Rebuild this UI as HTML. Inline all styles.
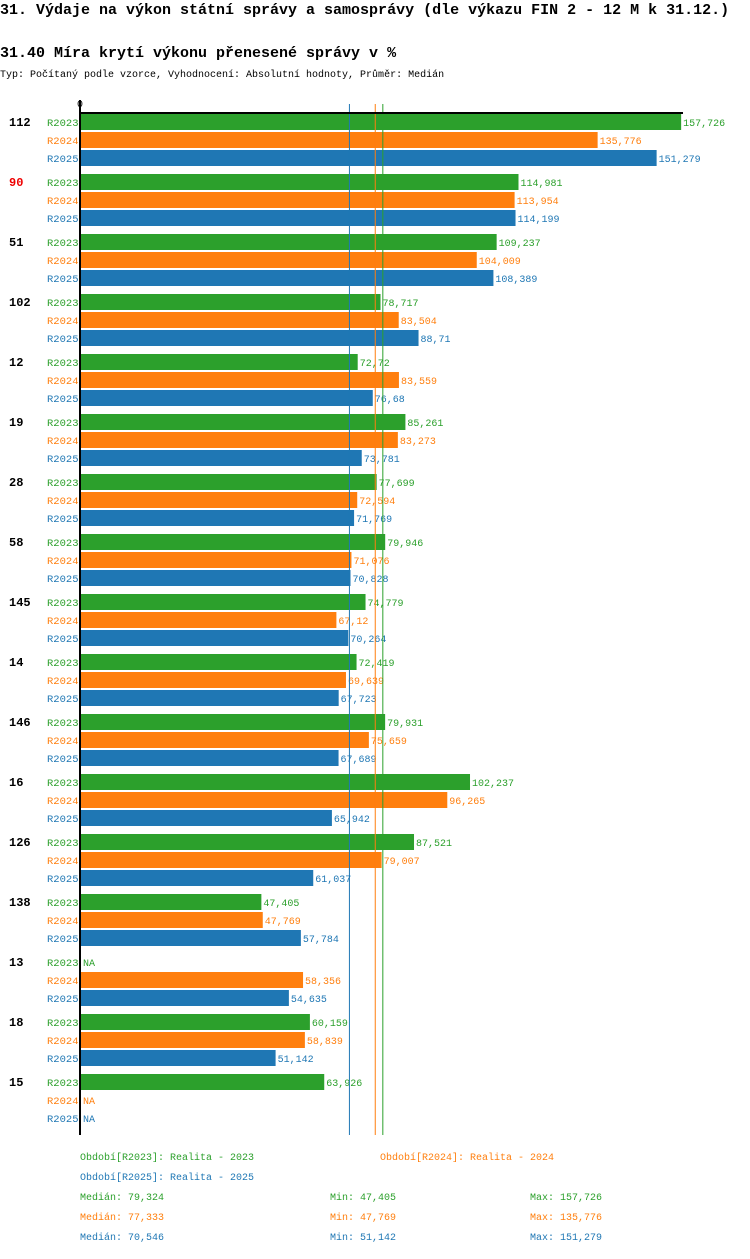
<!DOCTYPE html>
<html><head><meta charset="utf-8"><style>
body{margin:0;background:#fff;width:750px;height:1254px;overflow:hidden}
svg text{font-family:"Liberation Mono","DejaVu Sans Mono",monospace}
</style></head><body>
<svg id="c" width="750" height="1254" xmlns="http://www.w3.org/2000/svg">
<text x="0" y="14" font-size="15" font-weight="bold">31. Výdaje na výkon státní správy a samosprávy (dle výkazu FIN 2 - 12 M k 31.12.)</text>
<text x="0" y="57" font-size="15" font-weight="bold">31.40 Míra krytí výkonu přenesené správy v %</text>
<text x="0" y="77" font-size="10">Typ: Počítaný podle vzorce, Vyhodnocení: Absolutní hodnoty, Průměr: Medián</text>
<text x="77" y="107" font-size="10">0</text>
<g id="bars"></g>
<line x1="80" y1="113" x2="683" y2="113" stroke="#000" stroke-width="2"/>
<line x1="80" y1="100" x2="80" y2="1135" stroke="#000" stroke-width="2"/>
<g font-size="10">
<text x="80" y="1160" fill="#2ca02c">Období[R2023]: Realita - 2023</text>
<text x="380" y="1160" fill="#ff7f0e">Období[R2024]: Realita - 2024</text>
<text x="80" y="1180" fill="#1f77b4">Období[R2025]: Realita - 2025</text>
<text x="80" y="1200" fill="#2ca02c">Medián: 79,324</text>
<text x="330" y="1200" fill="#2ca02c">Min: 47,405</text>
<text x="530" y="1200" fill="#2ca02c">Max: 157,726</text>
<text x="80" y="1220" fill="#ff7f0e">Medián: 77,333</text>
<text x="330" y="1220" fill="#ff7f0e">Min: 47,769</text>
<text x="530" y="1220" fill="#ff7f0e">Max: 135,776</text>
<text x="80" y="1240" fill="#1f77b4">Medián: 70,546</text>
<text x="330" y="1240" fill="#1f77b4">Min: 51,142</text>
<text x="530" y="1240" fill="#1f77b4">Max: 151,279</text>
</g>
</svg>
<script>
const categories=["112","90","51","102","12","19","28","58","145","14","146","16","126","138","13","18","15"];
const seriesNames=["R2023","R2024","R2025"];
const r2023=[157.726,114.981,109.237,78.717,72.72,85.261,77.699,79.946,74.779,72.419,79.931,102.237,87.521,47.405,null,60.159,63.926];
const r2024=[135.776,113.954,104.009,83.504,83.559,83.273,72.594,71.076,67.12,69.639,75.659,96.265,79.007,47.769,58.356,58.839,null];
const r2025=[151.279,114.199,108.389,88.71,76.68,73.781,71.769,70.828,70.264,67.723,67.689,65.942,61.037,57.784,54.635,51.142,null];
const medians=[79.324,77.333,70.546];
const highlighted=["90"];
const colors=["#2ca02c","#ff7f0e","#1f77b4"];
const NS="http://www.w3.org/2000/svg";
const x=v=>81+v*3.805;
const g=document.getElementById('bars');
function mk(t,a){const e=document.createElementNS(NS,t);for(const k in a)e.setAttribute(k,a[k]);return e;}
const all=[r2023,r2024,r2025];
categories.forEach((c,i)=>{
  const y0=114+60*i;
  const ct=mk('text',{x:9,y:y0+12,'font-size':12,'font-weight':'bold',fill:highlighted.includes(c)?'#e00':'#000'});
  ct.textContent=c;
  
  
  g.appendChild(ct);
  all.forEach((arr,s)=>{
    const y=y0+18*s;
    const lt=mk('text',{x:47,y:y+12,'font-size':10.5,fill:colors[s]});
    lt.textContent=seriesNames[s];
    
    
    g.appendChild(lt);
    const v=arr[i];
    let end=81;
    if(v!==null){
      const r=mk('rect',{x:81,y:y,width:x(v)-81,height:16,fill:colors[s]});
      
      
      g.appendChild(r);end=x(v);
    }
    const vt=mk('text',{x:end+2,y:y+12,'font-size':10,fill:colors[s]});
    vt.textContent=v===null?'NA':String(v).replace('.',',');
    
    
    g.appendChild(vt);
  });
});
medians.forEach((m,s)=>{
  const l=mk('line',{x1:x(m),x2:x(m),y1:104,y2:1135,stroke:colors[s],'stroke-width':1});
  
  
  g.appendChild(l);
});
</script>
</body></html>
